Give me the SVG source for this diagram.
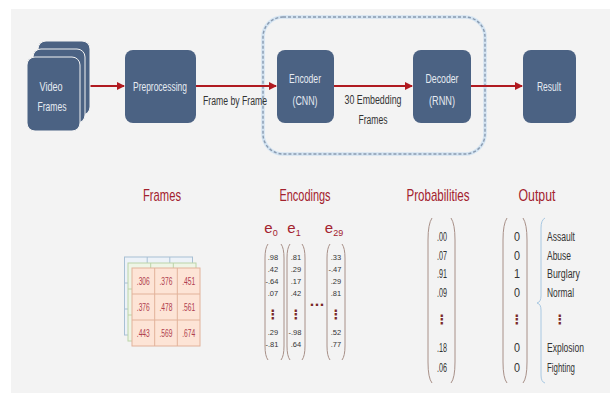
<svg xmlns="http://www.w3.org/2000/svg" width="610" height="394" viewBox="0 0 610 394">
  <defs>
    <marker id="arrow" viewBox="0 0 8 8" refX="7" refY="4" markerWidth="4" markerHeight="4" orient="auto" markerUnits="strokeWidth">
      <path d="M0,0 L8,4 L0,8 z" fill="#b01a20"/>
    </marker>
    <style>
      text { font-family: "Liberation Sans", Arial, sans-serif; }
      .node { fill: #4b6283; }
      .nlabel { font-size: 13px; fill: #e6ebf2; text-anchor: middle; }
      .elabel { font-size: 12.5px; fill: #333; text-anchor: middle; }
      .flow { stroke: #b01a20; stroke-width: 2; fill: none; marker-end: url(#arrow); }
      .title { font-size: 17px; fill: #a3222e; text-anchor: middle; }
      .cell { font-size: 11px; fill: #b0404e; text-anchor: middle; }
      .vec { font-size: 7.5px; fill: #333; text-anchor: middle; }
      .val { font-size: 12.5px; fill: #333; text-anchor: middle; }
      .cls { font-size: 12.5px; fill: #333; }
      .ename { font-size: 15px; fill: #a3222e; text-anchor: middle; }
      .paren { fill: none; stroke: #a89088; stroke-width: 1; }
      .dots { font-family: "DejaVu Sans", sans-serif; font-size: 13px; fill: #7a2a2a; text-anchor: middle; font-weight: bold; }
    </style>
  </defs>

  <!-- page -->
  <rect x="0" y="0" width="610" height="394" fill="#ffffff"/>
  <rect x="11" y="9" width="599" height="384" fill="#f3f3f3"/>

  <!-- encoder/decoder boundary -->
  <g id="model-boundary">
    <rect x="263" y="17" width="222" height="137" rx="20" fill="none" stroke="#d4e4f2" stroke-width="3.5"/>
    <rect x="263" y="17" width="222" height="137" rx="20" fill="none" stroke="#8a9bb0" stroke-width="1.4" stroke-dasharray="3 2"/>
  </g>

  <!-- connectors -->
  <g id="connectors">
    <line class="flow" x1="82" y1="86" x2="124" y2="86"/>
    <line class="flow" x1="196" y1="86" x2="276" y2="86"/>
    <line class="flow" x1="334" y1="86" x2="412" y2="86"/>
    <line class="flow" x1="471" y1="86" x2="522" y2="86"/>
    <text class="elabel" x="235" y="105" textLength="64" lengthAdjust="spacingAndGlyphs">Frame by Frame</text>
    <text class="elabel" x="373" y="104" textLength="57" lengthAdjust="spacingAndGlyphs">30 Embedding</text>
    <text class="elabel" x="373" y="124" textLength="29" lengthAdjust="spacingAndGlyphs">Frames</text>
  </g>

  <g id="video-frames">
    <rect class="node" x="38" y="41" width="52" height="74" rx="8" stroke="#f3f3f3" stroke-width="1"/>
    <rect class="node" x="33" y="49" width="52" height="74" rx="8" stroke="#f3f3f3" stroke-width="1"/>
    <rect class="node" x="27" y="57" width="53" height="74" rx="8" stroke="#f3f3f3" stroke-width="1"/>
    <text class="nlabel" x="51" y="91" textLength="23" lengthAdjust="spacingAndGlyphs">Video</text>
    <text class="nlabel" x="52" y="111" textLength="29" lengthAdjust="spacingAndGlyphs">Frames</text>
  </g>

  <g id="preprocessing">
    <rect class="node" x="125" y="50" width="71" height="73" rx="8"/>
    <text class="nlabel" x="160" y="91" textLength="54" lengthAdjust="spacingAndGlyphs">Preprocessing</text>
  </g>

  <g id="encoder">
    <rect class="node" x="277" y="50" width="57" height="73" rx="8"/>
    <text class="nlabel" x="305" y="83" textLength="32" lengthAdjust="spacingAndGlyphs">Encoder</text>
    <text class="nlabel" x="305" y="105" textLength="25" lengthAdjust="spacingAndGlyphs">(CNN)</text>
  </g>

  <g id="decoder">
    <rect class="node" x="413" y="50" width="58" height="73" rx="8"/>
    <text class="nlabel" x="442" y="83" textLength="33" lengthAdjust="spacingAndGlyphs">Decoder</text>
    <text class="nlabel" x="442" y="105" textLength="26" lengthAdjust="spacingAndGlyphs">(RNN)</text>
  </g>

  <g id="result">
    <rect class="node" x="523" y="50" width="53" height="73" rx="8"/>
    <text class="nlabel" x="549" y="91" textLength="24" lengthAdjust="spacingAndGlyphs">Result</text>
  </g>

  <!-- section headings -->
  <g id="headings">
    <text class="title" x="162" y="201" textLength="38" lengthAdjust="spacingAndGlyphs">Frames</text>
    <text class="title" x="305" y="201" textLength="51" lengthAdjust="spacingAndGlyphs">Encodings</text>
    <text class="title" x="438" y="201" textLength="63" lengthAdjust="spacingAndGlyphs">Probabilities</text>
    <text class="title" x="537" y="201" textLength="37" lengthAdjust="spacingAndGlyphs">Output</text>
  </g>

  <!-- stacked frame grids -->
  <g id="frame-grids">
    <g fill="#edf2f8" stroke="#a8c0d4" stroke-width="1">
      <rect x="124.5" y="257" width="68" height="78"/>
      <path d="M147.2,257 V335 M169.8,257 V335 M124.5,283 H192.5 M124.5,309 H192.5"/>
    </g>
    <g fill="#eef5e6" stroke="#bcd4a8" stroke-width="1">
      <rect x="128" y="263" width="68" height="78"/>
      <path d="M150.7,263 V341 M173.3,263 V341 M128,289 H196 M128,315 H196"/>
    </g>
    <g fill="#fde4d6" stroke="#e2b29a" stroke-width="1">
      <rect x="132" y="268" width="68" height="78"/>
      <path d="M154.7,268 V346 M177.3,268 V346 M132,294 H200 M132,320 H200"/>
    </g>
    <g class="cell">
      <text x="143.3" y="285" textLength="13" lengthAdjust="spacingAndGlyphs">.306</text>
      <text x="166" y="285" textLength="13" lengthAdjust="spacingAndGlyphs">.376</text>
      <text x="188.7" y="285" textLength="13" lengthAdjust="spacingAndGlyphs">.451</text>
      <text x="143.3" y="311" textLength="13" lengthAdjust="spacingAndGlyphs">.376</text>
      <text x="166" y="311" textLength="13" lengthAdjust="spacingAndGlyphs">.478</text>
      <text x="188.7" y="311" textLength="13" lengthAdjust="spacingAndGlyphs">.561</text>
      <text x="143.3" y="337" textLength="13" lengthAdjust="spacingAndGlyphs">.443</text>
      <text x="166" y="337" textLength="13" lengthAdjust="spacingAndGlyphs">.569</text>
      <text x="188.7" y="337" textLength="13" lengthAdjust="spacingAndGlyphs">.674</text>
    </g>
  </g>

  <!-- embedding vectors -->
  <g id="encodings">
    <text class="ename" x="271" y="233">e<tspan font-size="9" dy="3">0</tspan></text>
    <text class="ename" x="294" y="233">e<tspan font-size="9" dy="3">1</tspan></text>
    <text class="ename" x="334" y="233">e<tspan font-size="9" dy="3">29</tspan></text>

    <path class="paren" d="M268,244 Q265,248 265,258 V346 Q265,356 268,360 M281,244 Q284,248 284,258 V346 Q284,356 281,360"/>
    <path class="paren" d="M290,244 Q287,248 287,258 V346 Q287,356 290,360 M302,244 Q305,248 305,258 V346 Q305,356 302,360"/>
    <path class="paren" d="M330,244 Q327,248 327,258 V346 Q327,356 330,360 M342,244 Q345,248 345,258 V346 Q345,356 342,360"/>

    <g class="vec">
      <text x="273" y="260">.98</text><text x="273" y="272">.42</text><text x="272" y="284">-.64</text><text x="273" y="296">.07</text>
      <text x="273" y="335">.29</text><text x="272" y="347">-.81</text>
      <text x="296" y="260">.81</text><text x="296" y="272">.29</text><text x="296" y="284">.17</text><text x="296" y="296">.42</text>
      <text x="295" y="335">-.98</text><text x="296" y="347">.64</text>
      <text x="336" y="260">.33</text><text x="335" y="272">-.47</text><text x="336" y="284">.29</text><text x="336" y="296">.81</text>
      <text x="336" y="335">.52</text><text x="336" y="347">.77</text>
    </g>
    <text class="dots" x="273" y="319" font-size="11">⋮</text>
    <text class="dots" x="296" y="319" font-size="11">⋮</text>
    <text class="dots" x="336" y="319" font-size="11">⋮</text>
    <text class="dots" x="317" y="306" font-size="9">...</text>
  </g>

  <!-- class probabilities -->
  <g id="probabilities">
    <path class="paren" d="M432,218 Q428,224 428,240 V362 Q428,378 432,383 M451,218 Q455,224 455,240 V362 Q455,378 451,383"/>
    <text class="val" x="442" y="241" textLength="10" lengthAdjust="spacingAndGlyphs">.00</text>
    <text class="val" x="442" y="260" textLength="10" lengthAdjust="spacingAndGlyphs">.07</text>
    <text class="val" x="442" y="278" textLength="10" lengthAdjust="spacingAndGlyphs">.91</text>
    <text class="val" x="442" y="297" textLength="10" lengthAdjust="spacingAndGlyphs">.09</text>
    <text class="dots" x="442" y="324">⋮</text>
    <text class="val" x="442" y="352" textLength="10" lengthAdjust="spacingAndGlyphs">.18</text>
    <text class="val" x="442" y="372" textLength="10" lengthAdjust="spacingAndGlyphs">.06</text>
  </g>

  <!-- one-hot output -->
  <g id="output">
    <path class="paren" d="M507,218 Q503,224 503,240 V362 Q503,378 507,383 M523,218 Q527,224 527,240 V362 Q527,378 523,383"/>
    <text class="val" x="517" y="241" textLength="6" lengthAdjust="spacingAndGlyphs">0</text>
    <text class="val" x="517" y="260" textLength="6" lengthAdjust="spacingAndGlyphs">0</text>
    <text class="val" x="517" y="278" textLength="6" lengthAdjust="spacingAndGlyphs">1</text>
    <text class="val" x="517" y="297" textLength="6" lengthAdjust="spacingAndGlyphs">0</text>
    <text class="dots" x="517" y="324">⋮</text>
    <text class="val" x="517" y="352" textLength="6" lengthAdjust="spacingAndGlyphs">0</text>
    <text class="val" x="517" y="372" textLength="6" lengthAdjust="spacingAndGlyphs">0</text>

    <path d="M545,218 Q541,220 541,228 V296 Q541,302 537,303 Q541,304 541,310 V375 Q541,382 545,383" fill="none" stroke="#a8c8e2" stroke-width="1"/>
    <text class="cls" x="547" y="241" textLength="28" lengthAdjust="spacingAndGlyphs">Assault</text>
    <text class="cls" x="547" y="260" textLength="24" lengthAdjust="spacingAndGlyphs">Abuse</text>
    <text class="cls" x="547" y="278" textLength="33" lengthAdjust="spacingAndGlyphs">Burglary</text>
    <text class="cls" x="547" y="297" textLength="27" lengthAdjust="spacingAndGlyphs">Normal</text>
    <text class="dots" x="560" y="324">⋮</text>
    <text class="cls" x="547" y="352" textLength="37" lengthAdjust="spacingAndGlyphs">Explosion</text>
    <text class="cls" x="547" y="372" textLength="28" lengthAdjust="spacingAndGlyphs">Fighting</text>
  </g>
</svg>
